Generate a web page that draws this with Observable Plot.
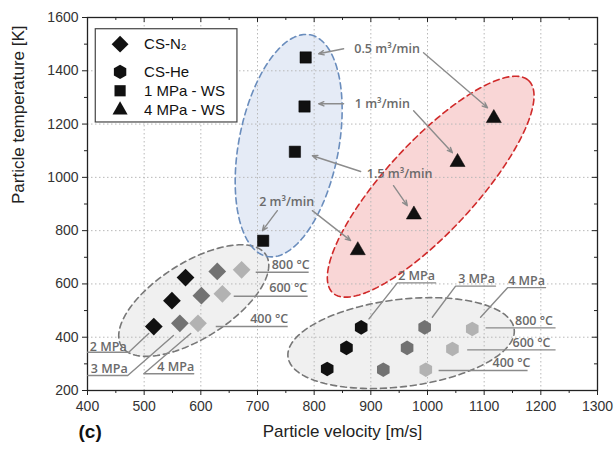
<!DOCTYPE html>
<html>
<head>
<meta charset="utf-8">
<script src="https://cdn.jsdelivr.net/npm/d3@7"></script>
<script src="https://cdn.jsdelivr.net/npm/@observablehq/plot@0.6"></script>
<style>
  body { margin: 0; background: #fff; }
</style>
</head>
<body>
<div id="chart"></div>
<script>
// Axis ticks
const xTicks = [400, 500, 600, 700, 800, 900, 1000, 1100, 1200, 1300];
const xMinor = [450, 550, 650, 750, 850, 950, 1050, 1150, 1250];
const yTicks = [200, 400, 600, 800, 1000, 1200, 1400, 1600];
const yMinor = [300, 500, 700, 900, 1100, 1300, 1500];

// Process conditions
const pressures = ["2 MPa", "3 MPa", "4 MPa"];
const gasTemps = ["400 °C", "600 °C", "800 °C"];
const flowRates = ["0.5 m³/min", "1 m³/min", "1.5 m³/min", "2 m³/min"];
const seriesNames = ["CS-N₂", "CS-He", "1 MPa - WS", "4 MPa - WS"];

// Cold spray with nitrogen: velocity [m/s] and temperature [K] at 400/600/800 °C
const n2Vel2 = [517, 549, 573];
const n2Temp2 = [440, 537, 624];
const n2Vel3 = [563, 601, 629];
const n2Temp3 = [452, 556, 647];
const n2Vel4 = [595, 638, 672];
const n2Temp4 = [452, 563, 653];

// Cold spray with helium
const heVel2 = [823, 857, 883];
const heTemp2 = [281, 360, 437];
const heVel3 = [922, 964, 995];
const heTemp3 = [278, 360, 437];
const heVel4 = [997, 1044, 1079];
const heTemp4 = [278, 356, 431];

// Warm spray, by nitrogen flow rate (0.5, 1, 1.5, 2 m³/min)
const ws1Vel = [785, 783, 766, 710];
const ws1Temp = [1450, 1266, 1096, 762];
const ws4Vel = [1117, 1053, 976, 877];
const ws4Temp = [1222, 1057, 860, 726];

const pressureColors = ["#111111", "#727272", "#b2b2b2"];

function csRows(vels, temps, pressure) {
  return vels.map((v, i) => ({v, t: temps[i], pressure, gas: gasTemps[i]}));
}
const n2Rows = [
  ...csRows(n2Vel2, n2Temp2, pressures[0]),
  ...csRows(n2Vel3, n2Temp3, pressures[1]),
  ...csRows(n2Vel4, n2Temp4, pressures[2])
];
const heRows = [
  ...csRows(heVel2, heTemp2, pressures[0]),
  ...csRows(heVel3, heTemp3, pressures[1]),
  ...csRows(heVel4, heTemp4, pressures[2])
];
const ws1Rows = ws1Vel.map((v, i) => ({v, t: ws1Temp[i], flow: flowRates[i]}));
const ws4Rows = ws4Vel.map((v, i) => ({v, t: ws4Temp[i], flow: flowRates[i]}));

// Grouping ellipses: centre plus two conjugate half-axes, in data units
function ellipse(c, a, b, n = 144) {
  return d3.range(n + 1).map(i => {
    const th = (2 * Math.PI * i) / n;
    return [c[0] + a[0] * Math.cos(th) + b[0] * Math.sin(th),
            c[1] + a[1] * Math.cos(th) + b[1] * Math.sin(th)];
  });
}
const groups = [
  {pts: ellipse([587.5, 537.5], [127.5, 171.4], [35.8, -120.4]), fill: "#f0f0f0", stroke: "#777777"},
  {pts: ellipse([953.4, 378], [199.6, 52.1], [9.3, -162.4]), fill: "#f0f0f0", stroke: "#777777"},
  {pts: ellipse([755, 1119], [38, 416], [86.4, -35.6]), fill: "#e5ebf6", stroke: "#6a8dbd"},
  {pts: ellipse([1005.6, 965], [172.8, 398.6], [58.4, -114.4]), fill: "#f9d6d6", stroke: "#d02a2a"}
];

// Flow-rate callouts: label anchor and arrows to the two warm-spray series
const flowLabelPos = [[928.7, 1481], [920.3, 1277], [950.8, 1013.8], [751.5, 906]];
const flowArrows = [
  [852, 1482.5, 808, 1463.8], [993, 1467.5, 1106, 1261],
  [852, 1276, 808, 1276], [975.5, 1250, 1044, 1092.5],
  [882, 1022, 796.8, 1081], [940, 968.8, 964.4, 893.8],
  [735, 875, 708.6, 800], [796.8, 875, 864.4, 762.5]
];

// Gas temperature callouts (underlined), left = N2, right = He
const tempLabelPos = [
  [720.6, 470], [754.2, 586], [758.6, 672.5],
  [1148.3, 304], [1183.6, 377.4], [1188, 462.5]
];
const tempUnderlines = [
  [626.3, 440, 753.3], [658, 553.6, 788.5], [696.8, 643.6, 790.3],
  [1019.6, 275, 1176.6], [1070, 352.6, 1226], [1102.5, 435, 1226]
];

// Pressure callouts with bent leaders
const pressLabelPos = [
  [436.7, 362.4], [438.4, 282.5], [555.7, 287.4],
  [980.8, 631], [1086.6, 620], [1174.8, 612.5]
];
const pressLeaders = [
  [[400, 343.6], [472.8, 343.6], [508, 413.8]],
  [[400.5, 256.3], [471, 256.3], [551.7, 406.3]],
  [[587.5, 262.6], [499.3, 262.6], [582.2, 413.8]],
  [[1014.3, 603.9], [946.8, 603.9], [896.7, 468.9]],
  [[1120, 591.9], [1049.6, 591.9], [1008.5, 474.9]],
  [[1208.3, 586], [1141.3, 586], [1093.7, 474.9]]
];
const leaderRows = pressLeaders.flatMap((pts, k) => pts.map(p => ({x: p[0], y: p[1], k})));

// Legend placement (data units)
const legendBox = {x1: 414.6, x2: 664.6, y1: 1206, y2: 1556};
const legendRowsT = [1500, 1396, 1325, 1252.6];
const legendSymbols = ["diamond2", "hexagon", "square", "triangle"];
const legendR = [7.6, 6.2, 6.3, 5.6];
const legendRows = seriesNames.map((name, i) => ({name, t: legendRowsT[i], symbol: legendSymbols[i], r: legendR[i]}));

const annFont = "'Open Sans', 'Noto Sans', sans-serif";
const annColor = "#6a6a6a";

const chart = Plot.plot({
  width: 614,
  height: 450,
  marginLeft: 87,
  marginRight: 17,
  marginTop: 17,
  marginBottom: 60,
  x: {domain: [400, 1300]},
  y: {domain: [200, 1600]},
  color: {domain: pressures, range: pressureColors},
  style: {fontFamily: "'Liberation Sans', Arial, sans-serif", background: "#fff", color: "#111"},
  marks: [
    // ellipse fills
    ...groups.map(g => Plot.line(g.pts, {x: "0", y: "1", fill: g.fill, stroke: "none"})),
    // dotted grid
    Plot.gridX({ticks: xTicks, stroke: "#b8b8b8", strokeOpacity: 1, strokeDasharray: "1.5,2.5"}),
    Plot.gridY({ticks: yTicks, stroke: "#b8b8b8", strokeOpacity: 1, strokeDasharray: "1.5,2.5"}),
    // ellipse outlines
    ...groups.map(g => Plot.line(g.pts, {x: "0", y: "1", stroke: g.stroke, strokeWidth: 1.6, strokeDasharray: "6,4"})),
    // frame and axes
    Plot.frame({stroke: "#222", strokeWidth: 1.3}),
    Plot.axisX({ticks: xTicks, tickSize: 5, tickPadding: 6, fontSize: 14, tickFormat: d => String(d), label: null, stroke: "#222", color: "#333"}),
    Plot.axisY({ticks: yTicks, tickSize: 5, tickPadding: 4, fontSize: 14, tickFormat: d => String(d), label: null, stroke: "#222", color: "#333"}),
    Plot.ruleX(xMinor, {y1: 200, y2: 188.8, stroke: "#222"}),
    Plot.ruleY(yMinor, {x1: 400, x2: 394.7, stroke: "#222"}),
    Plot.ruleX(xTicks, {y1: 1600, y2: 1581.3, stroke: "#222"}),
    Plot.ruleX(xMinor, {y1: 1600, y2: 1588.8, stroke: "#222"}),
    Plot.ruleY(yTicks, {x1: 1300, x2: 1291.2, stroke: "#222"}),
    Plot.ruleY(yMinor, {x1: 1300, x2: 1294.7, stroke: "#222"}),
    Plot.text(["Particle velocity [m/s]"], {frameAnchor: "bottom", dy: 46, fontSize: 17, fill: "#222"}),
    Plot.text(["Particle temperature [K]"], {frameAnchor: "left", dx: -69, rotate: -90, fontSize: 17, fill: "#222"}),
    Plot.text(["(c)"], {frameAnchor: "bottom-left", dx: -9, dy: 47, textAnchor: "start", fontSize: 19, fontWeight: "bold", fill: "#111"}),
    // flow-rate callouts
    Plot.arrow(flowArrows, {x1: "0", y1: "1", x2: "2", y2: "3", stroke: "#8c8c8c", strokeWidth: 1.4, headLength: 6, headAngle: 45}),
    Plot.text(flowRates, {x: (d, i) => flowLabelPos[i][0], y: (d, i) => flowLabelPos[i][1], text: d => d,
      fontFamily: annFont, fontWeight: 600, fontSize: 12.5, fill: annColor}),
    // gas temperature callouts
    Plot.link(tempUnderlines, {x1: "0", y1: "1", x2: "2", y2: "1", stroke: "#8a8a8a", strokeWidth: 1.4}),
    Plot.text(tempLabelPos, {x: "0", y: "1", text: (d, i) => gasTemps[i % 3],
      fontFamily: annFont, fontWeight: 600, fontSize: 12.5, fill: annColor}),
    // pressure callouts
    Plot.line(leaderRows, {x: "x", y: "y", z: "k", stroke: "#8a8a8a", strokeWidth: 1.4}),
    Plot.text(pressLabelPos, {x: "0", y: "1", text: (d, i) => pressures[i % 3],
      fontFamily: annFont, fontWeight: 600, fontSize: 12.5, fill: annColor}),
    // data points
    Plot.dot(n2Rows, {x: "v", y: "t", fill: "pressure", symbol: "diamond2", r: 8}),
    Plot.dot(heRows, {x: "v", y: "t", fill: "pressure", symbol: "hexagon", r: 6.3}),
    Plot.dot(ws1Rows, {x: "v", y: "t", fill: "#111", stroke: "#000", strokeWidth: 0.5, symbol: "square", r: 6.4}),
    Plot.dot(ws4Rows, {x: "v", y: "t", fill: "#111", stroke: "#000", strokeWidth: 0.5, symbol: "triangle", r: 5.6}),
    // legend
    Plot.rect([legendBox], {x1: "x1", x2: "x2", y1: "y1", y2: "y2", fill: "white", stroke: "#444", strokeWidth: 1.2}),
    ...legendRows.map(row => Plot.dot([row], {x: () => 457.5, y: "t", symbol: row.symbol, r: row.r, fill: "#111"})),
    Plot.text(legendRows, {x: () => 499.8, y: "t", text: "name", textAnchor: "start", fontSize: 15, fill: "#111"})
  ]
});

document.getElementById("chart").appendChild(chart);
</script>
</body>
</html>
